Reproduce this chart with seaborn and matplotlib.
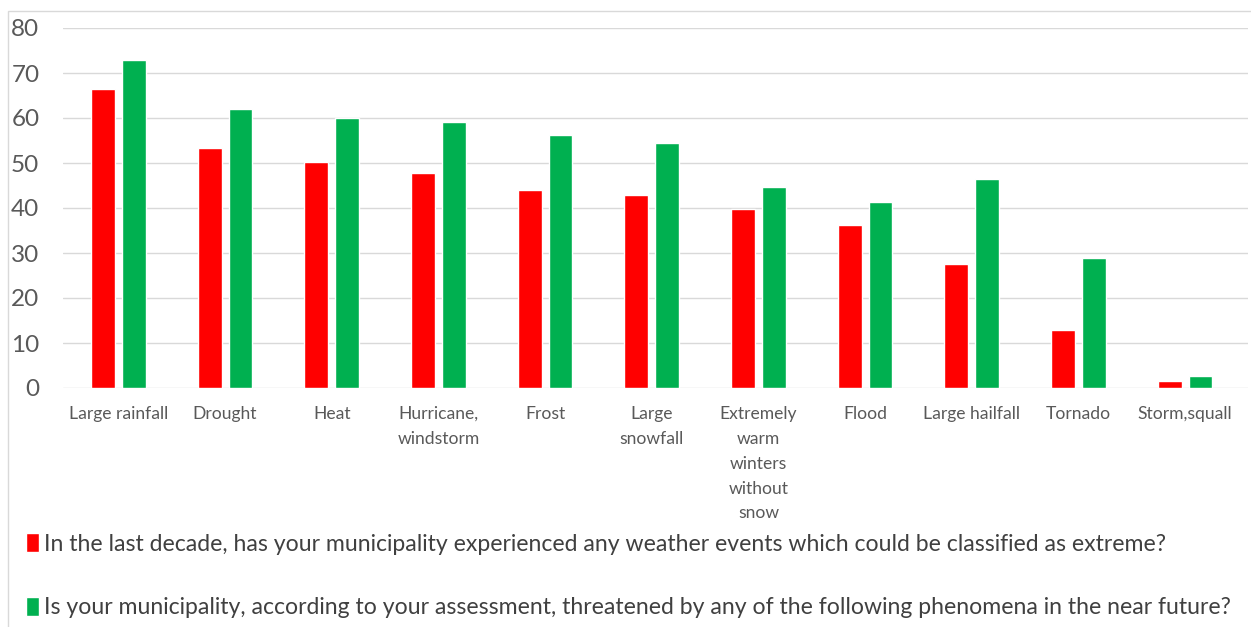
import pandas as pd
import matplotlib.pyplot as plt
import seaborn as sns
from matplotlib.patches import Rectangle

# Data
categories = ['Large rainfall', 'Drought', 'Heat', 'Hurricane,\nwindstorm', 'Frost',
              'Large\nsnowfall', 'Extremely\nwarm\nwinters\nwithout\nsnow', 'Flood',
              'Large hailfall', 'Tornado', 'Storm,squall']
experienced = [66.4, 53.3, 50.3, 47.7, 44.1, 42.9, 39.7, 36.2, 27.5, 13.0, 1.6]
threatened = [72.8, 62.0, 60.0, 59.1, 56.2, 54.4, 44.7, 41.3, 46.4, 28.9, 2.7]
series = ['In the last decade, has your municipality experienced any weather events which could be classified as extreme?',
          'Is your municipality, according to your assessment, threatened by any of the following phenomena in the near future?']

df = pd.DataFrame({
    'category': categories * 2,
    'value': experienced + threatened,
    'series': [series[0]] * len(categories) + [series[1]] * len(categories),
})

sns.set_style('white')
plt.rcParams['font.family'] = ['Lato', 'DejaVu Sans']

fig = plt.figure(figsize=(12.51, 6.27), dpi=100)
ax = fig.add_axes([63 / 1251, 1 - 388 / 627, (1248 - 63) / 1251, (388 - 28) / 627])

sns.barplot(data=df, x='category', y='value', hue='series', ax=ax,
            palette={series[0]: '#FF0000', series[1]: '#00B050'},
            width=0.58, gap=0.23, saturation=1, legend=True)

ax.set_ylim(0, 80)
ax.set_xlim(-0.52, 10.59)
ax.set_yticks(range(0, 81, 10))
ax.yaxis.grid(True, color='#d9d9d9', linewidth=1)
ax.set_axisbelow(True)
for s in ax.spines.values():
    s.set_visible(False)
ax.set_xlabel('')
ax.set_ylabel('')
ax.tick_params(axis='y', labelsize=17.5, labelcolor='#595959', length=0, pad=17)
ax.tick_params(axis='x', labelsize=12.6, labelcolor='#595959', length=0, pad=13)
for lbl in ax.get_xticklabels():
    lbl.set_linespacing(1.68)
    lbl.set_verticalalignment('top')

handles, labels = ax.get_legend_handles_labels()
ax.get_legend().remove()
fig.legend(handles, labels, loc='upper left', bbox_to_anchor=(17 / 1251, 1 - 524 / 627),
           frameon=False, fontsize=16.6, labelcolor='#404040', handlelength=0.55,
           handleheight=0.9, handletextpad=0.22, labelspacing=1.82, borderaxespad=0)

# light frame around the chart area
fig.patches.append(Rectangle((8 / 1251, -0.01), 1.0, 1 - 11 / 627 + 0.01,
                             transform=fig.transFigure, fill=False,
                             edgecolor='#d9d9d9', linewidth=1))

fig.savefig('out.png', dpi=100)
